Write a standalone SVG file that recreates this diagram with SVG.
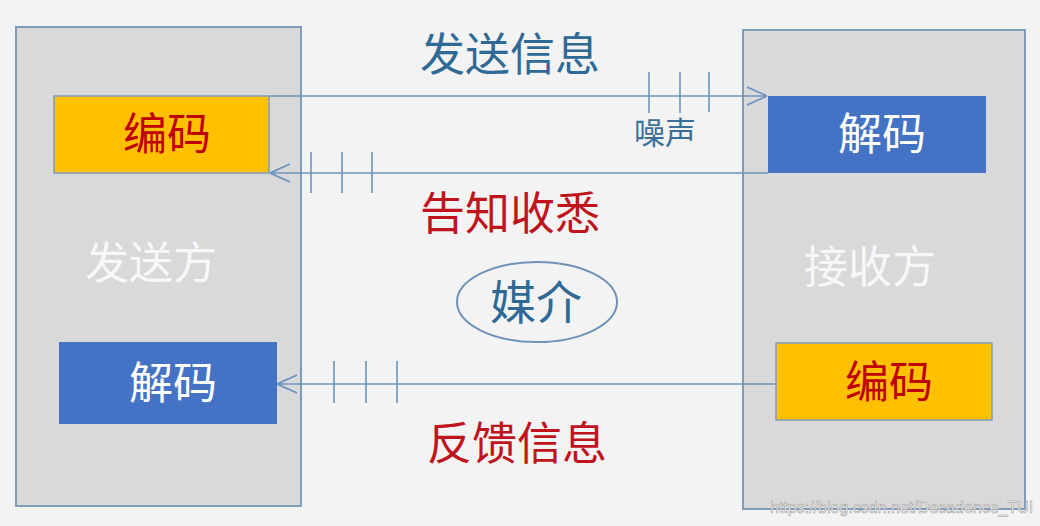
<svg xmlns="http://www.w3.org/2000/svg" width="1040" height="526" viewBox="0 0 1040 526">
<defs>
<style>
.bg{fill:#f3f3f3}
.party{fill:#d9d9d9;stroke:#7f9cbc;stroke-width:2}
.enc{fill:#ffc000;stroke:#7f9cbc;stroke-width:1.5}
.dec{fill:#4472c4;stroke:none}
text{font-family:"Noto Sans CJK SC","Noto Sans",sans-serif;text-anchor:middle;dominant-baseline:central}
.t-enc{fill:#c00000;font-size:44px}
.t-dec{fill:#ffffff;font-size:44px}
.t-party{fill:#f7f7f7;font-size:44px}
.t-blue{fill:#2f6a96;font-size:45px}
.t-red{fill:#c0141c;font-size:45px}
.t-noise{fill:#3a6f9a;font-size:31px}
.t-media{fill:#2f6a96;font-size:46px}
.conn{stroke:#6c93bf;stroke-width:1.6;fill:none}
.tick{stroke:#6c93bf;stroke-width:1.6}
.media{fill:none;stroke:#6f93b8;stroke-width:2}
.wm{font-family:"Liberation Sans",Arial,sans-serif;font-size:16px;fill:#f4f4f4;stroke:#9a9a9a;stroke-width:0.5;text-anchor:start;dominant-baseline:alphabetic}
</style>
<marker id="arr" viewBox="0 0 20 20" refX="20" refY="10" markerWidth="20" markerHeight="20" markerUnits="userSpaceOnUse" orient="auto">
<path d="M0,1 L20,10 L0,19" fill="none" stroke="#6c93bf" stroke-width="1.6"/>
</marker>
</defs>
<rect class="bg" x="0" y="0" width="1040" height="526"/>

<g id="sender">
<rect class="party" x="16" y="27" width="285" height="479"/>
<text class="t-party" x="151" y="260">发送方</text>
</g>
<g id="receiver">
<rect class="party" x="743" y="30" width="282" height="479"/>
<text class="t-party" x="870" y="264">接收方</text>
</g>

<g id="sender-encode">
<rect class="enc" x="54" y="96" width="215" height="77"/>
<text class="t-enc" x="167" y="131">编码</text>
</g>
<g id="receiver-decode">
<rect class="dec" x="768" y="96" width="218" height="77"/>
<text class="t-dec" x="882" y="131">解码</text>
</g>
<g id="sender-decode">
<rect class="dec" x="59" y="342" width="218" height="82"/>
<text class="t-dec" x="173" y="380">解码</text>
</g>
<g id="receiver-encode">
<rect class="enc" x="776" y="343" width="216" height="77"/>
<text class="t-enc" x="889" y="379">编码</text>
</g>

<g id="medium">
<ellipse class="media" cx="537" cy="302" rx="80" ry="40"/>
<text class="t-media" x="536" y="299">媒介</text>
</g>

<g id="connectors">
<line class="conn" x1="269" y1="96" x2="767" y2="96" marker-end="url(#arr)"/>
<line class="conn" x1="768" y1="173" x2="270" y2="173" marker-end="url(#arr)"/>
<line class="conn" x1="776" y1="384" x2="277" y2="384" marker-end="url(#arr)"/>
<line class="tick" x1="649" y1="72" x2="649" y2="113"/>
<line class="tick" x1="680" y1="72" x2="680" y2="113"/>
<line class="tick" x1="709" y1="72" x2="709" y2="112"/>
<line class="tick" x1="311" y1="152" x2="311" y2="193"/>
<line class="tick" x1="342" y1="152" x2="342" y2="193"/>
<line class="tick" x1="372" y1="152" x2="372" y2="193"/>
<line class="tick" x1="334" y1="361" x2="334" y2="403"/>
<line class="tick" x1="366" y1="361" x2="366" y2="403"/>
<line class="tick" x1="397" y1="361" x2="397" y2="403"/>
<text class="t-blue" x="510" y="51">发送信息</text>
<text class="t-noise" x="665" y="130">噪声</text>
<text class="t-red" x="510" y="210">告知收悉</text>
<text class="t-red" x="517" y="440">反馈信息</text>
</g>

<text class="wm" x="770" y="513">https://blog.csdn.net/Decadence_TUI</text>
</svg>
